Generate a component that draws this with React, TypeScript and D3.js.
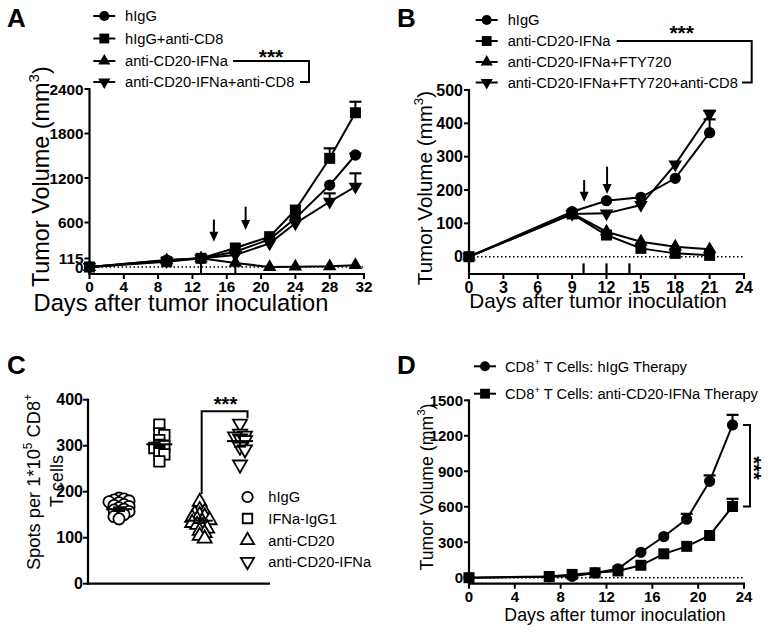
import React from 'react';
import * as d3 from 'd3';

const FONT = '"Liberation Sans", Arial, Helvetica, sans-serif';

// ---------------- Panel A ----------------
const daysA = [0, 9, 13, 17, 21, 24, 28, 31];
const namesA = ['hIgG', 'hIgG+anti-CD8', 'anti-CD20-IFNa', 'anti-CD20-IFNa+anti-CD8'];
const hIgG_A = [0, 94, 117, 206, 373, 656, 1105, 1510];
const hIgGCD8_A = [0, 72, 117, 256, 409, 768, 1465, 2080];
const cd20IFN_A = [0, 90, 117, 55, 0, 5, 10, 25];
const cd20IFNCD8_A = [0, 80, 117, 162, 319, 589, 880, 1083];
const errHIgG_A = [0, 0, 0, 0, 0, 0, 0, 20];
const errHIgGCD8_A = [0, 0, 0, 0, 0, 0, 135, 148];
const errCd20IFN_A = [0, 0, 0, 0, 0, 0, 0, 0];
const errCd20IFNCD8_A = [0, 0, 0, 0, 0, 0, 113, 180];
const xTicksA = [0, 4, 8, 12, 16, 20, 24, 28, 32];
const yTicksA = [0, 115, 600, 1200, 1800, 2400];
const treatDaysA = [13, 17];
const arrowDaysA = [14.5, 18.2];
const arrowTopA = [640, 813];
const arrowTipA = [340, 499];

// ---------------- Panel B ----------------
const daysB = [0, 9, 12, 15, 18, 21];
const namesB = ['hIgG', 'anti-CD20-IFNa', 'anti-CD20-IFNa+FTY720', 'anti-CD20-IFNa+FTY720+anti-CD8'];
const hIgG_B = [0, 135, 168, 178, 235, 372];
const cd20IFN_B = [0, 128, 65, 25, 10, 4];
const cd20IFNFTY_B = [0, 130, 75, 45, 30, 22];
const cd20IFNFTYCD8_B = [0, 128, 130, 155, 277, 428];
const errHIgG_B = [0, 0, 0, 0, 0, 40];
const errCd20IFN_B = [0, 0, 0, 0, 0, 0];
const errCd20IFNFTY_B = [0, 0, 0, 0, 0, 0];
const errCd20IFNFTYCD8_B = [0, 0, 0, 0, 0, 10];
const xTicksB = [0, 3, 6, 9, 12, 15, 18, 21, 24];
const yTicksB = [0, 100, 200, 300, 400, 500];
const treatDaysB = [10, 12, 14];
const arrowDaysB = [10.05, 12.05];
const arrowTopB = [230, 270];
const arrowTipB = [165, 188];

// ---------------- Panel C ----------------
const groupsC = ['hIgG', 'IFNa-IgG1', 'anti-CD20', 'anti-CD20-IFNa'];
const shapesC = ['circle', 'square', 'triangle', 'invtriangle'];
const ptsHIgG_C = [186, 184, 182, 180, 178, 176, 172, 170, 168, 165, 162, 160, 157, 154, 150, 146, 141];
const ptsIFNaIgG1_C = [346, 327, 323, 312, 302, 299, 295, 288, 281, 266];
const ptsCD20_C = [178, 160, 156, 152, 149, 146, 143, 140, 138, 135, 132, 128, 124, 120, 115, 110, 104, 98];
const ptsCD20IFNa_C = [348, 326, 322, 320, 316, 312, 298, 292, 259];
const meansC = [162, 303, 137, 310];
const semsC = [4, 8, 5, 12];
const yTicksC = [0, 100, 200, 300, 400];

// ---------------- Panel D ----------------
const daysD = [0, 7, 9, 11, 13, 15, 17, 19, 21, 23];
const hIgG_D = [0, 8, 12, 40, 75, 215, 348, 495, 815, 1292];
const cd20IFN_D = [0, 10, 28, 42, 57, 105, 202, 265, 357, 602];
const errHIgG_D = [0, 0, 0, 0, 0, 0, 0, 45, 50, 85];
const errCd20IFN_D = [0, 0, 0, 0, 0, 0, 0, 0, 0, 65];
const xTicksD = [0, 4, 8, 12, 16, 20, 24];
const yTicksD = [0, 300, 600, 900, 1200, 1500];

type Shape = 'circle' | 'square' | 'triangle' | 'invtriangle';

const SIZES: Record<string, number> = { circle: 100, square: 121, triangle: 80, invtriangle: 80 };

function symPath(shape: string, size?: number) {
  const t = shape === 'circle' ? d3.symbolCircle : shape === 'square' ? d3.symbolSquare : d3.symbolTriangle;
  return d3.symbol(t, size ?? SIZES[shape])() as string;
}

function Marker({ shape, x, y, filled = true, size }: { shape: string; x: number; y: number; filled?: boolean; size?: number }) {
  const rot = shape === 'invtriangle' ? ' rotate(180)' : '';
  return (
    <path
      d={symPath(shape, size)}
      transform={`translate(${x},${y})${rot}`}
      fill={filled ? '#000' : '#fff'}
      stroke="#000"
      strokeWidth={filled ? 0 : 1.8}
    />
  );
}

type Series = { values: number[]; err: number[]; shape: Shape };

function Axes({
  x, y, axisY, xTicks, yTicks, tickFont, xLabelBase,
}: {
  x: d3.ScaleLinear<number, number>; y: d3.ScaleLinear<number, number>; axisY: number;
  xTicks: number[]; yTicks: number[]; tickFont: number; xLabelBase: number;
}) {
  const x0 = x.range()[0];
  const x1 = x.range()[1];
  const yTop = y(yTicks[yTicks.length - 1]);
  return (
    <g fontFamily={FONT} fontWeight="bold" fontSize={tickFont}>
      <line x1={x0} x2={x0} y1={yTop - 1} y2={axisY + 1} stroke="#000" strokeWidth={2.2} />
      <line x1={x0 - 1} x2={x1 + 1} y1={axisY} y2={axisY} stroke="#000" strokeWidth={2.2} />
      {yTicks.map((t) => (
        <g key={'y' + t}>
          <line x1={x0 - 5} x2={x0} y1={y(t)} y2={y(t)} stroke="#000" strokeWidth={2} />
          <text x={x0 - 6} y={y(t)} dy="0.36em" textAnchor="end">{t}</text>
        </g>
      ))}
      {xTicks.map((t) => (
        <g key={'x' + t}>
          <line x1={x(t)} x2={x(t)} y1={axisY} y2={axisY + 5} stroke="#000" strokeWidth={2} />
          <text x={x(t)} y={xLabelBase} textAnchor="middle">{t}</text>
        </g>
      ))}
    </g>
  );
}

function SeriesMarks({ x, y, days, series }: { x: any; y: any; days: number[]; series: Series[] }) {
  const line = d3.line<number>().x((_, i) => x(days[i])).y((v) => y(v));
  return (
    <g>
      {series.map((s, si) => (
        <g key={'e' + si}>
          {s.values.map((v, i) =>
            s.err[i] > 0 ? (
              <g key={i}>
                <line x1={x(days[i])} x2={x(days[i])} y1={y(v)} y2={y(v + s.err[i])} stroke="#000" strokeWidth={2} />
                <line x1={x(days[i]) - 6} x2={x(days[i]) + 6} y1={y(v + s.err[i])} y2={y(v + s.err[i])} stroke="#000" strokeWidth={2.2} />
              </g>
            ) : null
          )}
        </g>
      ))}
      {series.map((s, si) => (
        <path key={'l' + si} d={line(s.values) as string} fill="none" stroke="#000" strokeWidth={2} />
      ))}
      {series.map((s, si) => (
        <g key={'m' + si}>
          {s.values.map((v, i) => (
            <Marker key={i} shape={s.shape} x={x(days[i])} y={y(v)} />
          ))}
        </g>
      ))}
    </g>
  );
}

// text made of alternating normal / superscript pieces
function SupText({ pieces, size }: { pieces: string[]; size: number }) {
  const shift = size * 0.42;
  return (
    <>
      {pieces.map((p, i) =>
        i % 2 === 1 ? (
          <tspan key={i} fontSize={size * 0.65} dy={-shift}>{p}</tspan>
        ) : i === 0 ? (
          <tspan key={i}>{p}</tspan>
        ) : (
          <tspan key={i} dy={shift}>{p}</tspan>
        )
      )}
    </>
  );
}

function LegendRow({ shape, x, y, pieces, textX }: { shape: Shape; x: number; y: number; pieces: string[]; textX: number }) {
  return (
    <g>
      <line x1={x - 11} x2={x + 11} y1={y} y2={y} stroke="#000" strokeWidth={2} />
      <Marker shape={shape} x={x} y={y} size={SIZES[shape] * 0.8} />
      <text x={textX} y={y + 5.3} fontFamily={FONT} fontSize={14.7}>
        <SupText pieces={pieces} size={14.7} />
      </text>
    </g>
  );
}

function Arrow({ x, yFrom, yTo }: { x: number; yFrom: number; yTo: number }) {
  return (
    <g>
      <line x1={x} x2={x} y1={yFrom} y2={yTo - 8} stroke="#000" strokeWidth={2} />
      <path d={`M${x - 4.5},${yTo - 10} L${x + 4.5},${yTo - 10} L${x},${yTo} Z`} fill="#000" />
    </g>
  );
}

function RotText({ x, y, size, pieces }: { x: number; y: number; size: number; pieces: string[] }) {
  return (
    <text transform={`translate(${x},${y}) rotate(-90)`} textAnchor="middle" fontFamily={FONT} fontSize={size}>
      <SupText pieces={pieces} size={size} />
    </text>
  );
}

function swarm(values: number[], y: (v: number) => number, diam: number, step: number) {
  const placed: { dx: number; py: number }[] = [];
  const order = values.map((_, i) => i).sort((a, b) => values[b] - values[a]);
  const out = new Array(values.length).fill(0);
  for (const i of order) {
    const py = y(values[i]);
    let best = 0;
    for (let k = 0; k < 30; k++) {
      const cand = k === 0 ? 0 : (k % 2 ? 1 : -1) * Math.ceil(k / 2) * step;
      if (placed.every((p) => Math.hypot(p.dx - cand, p.py - py) >= diam)) {
        best = cand;
        break;
      }
    }
    placed.push({ dx: best, py });
    out[i] = best;
  }
  return out;
}

export default function App() {
  // ---------- A ----------
  const xA = d3.scaleLinear().domain([0, 32]).range([89.5, 364]);
  const yA = d3.scaleLinear().domain([0, 2400]).range([267, 89]);
  const axisYA = 274;
  const seriesA: Series[] = [
    { values: hIgG_A, err: errHIgG_A, shape: 'circle' },
    { values: hIgGCD8_A, err: errHIgGCD8_A, shape: 'square' },
    { values: cd20IFN_A, err: errCd20IFN_A, shape: 'triangle' },
    { values: cd20IFNCD8_A, err: errCd20IFNCD8_A, shape: 'invtriangle' },
  ];
  const shapes4: Shape[] = ['circle', 'square', 'triangle', 'invtriangle'];
  const legRowsA = [16, 38.5, 61, 82];
  const legRowsB = [20, 41, 62, 82.5];

  // ---------- B ----------
  const xB = d3.scaleLinear().domain([0, 24]).range([469, 744]);
  const yB = d3.scaleLinear().domain([0, 500]).range([256.7, 90]);
  const axisYB = 274;
  const seriesB: Series[] = [
    { values: hIgG_B, err: errHIgG_B, shape: 'circle' },
    { values: cd20IFN_B, err: errCd20IFN_B, shape: 'square' },
    { values: cd20IFNFTY_B, err: errCd20IFNFTY_B, shape: 'triangle' },
    { values: cd20IFNFTYCD8_B, err: errCd20IFNFTYCD8_B, shape: 'invtriangle' },
  ];

  // ---------- C ----------
  const xC = d3.scalePoint<string>().domain(groupsC).range([119, 240]);
  const yC = d3.scaleLinear().domain([0, 400]).range([583.7, 399.7]);
  const ptsC = [ptsHIgG_C, ptsIFNaIgG1_C, ptsCD20_C, ptsCD20IFNa_C];
  const legRowsC = [497, 518.5, 540.3, 561.7];

  // ---------- D ----------
  const xD = d3.scaleLinear().domain([0, 24]).range([469, 744]);
  const yD = d3.scaleLinear().domain([0, 1500]).range([577.7, 400.3]);
  const axisYD = 583.7;
  const seriesD: Series[] = [
    { values: hIgG_D, err: errHIgG_D, shape: 'circle' },
    { values: cd20IFN_D, err: errCd20IFN_D, shape: 'square' },
  ];

  return (
    <svg width={771} height={634} style={{ position: 'absolute', left: 0, top: 0, background: '#fff' }}>
      <rect x={0} y={0} width={771} height={634} fill="#fff" />

      {/* ================= A ================= */}
      <text x={7} y={26.7} fontFamily={FONT} fontWeight="bold" fontSize={26}>A</text>
      {namesA.map((n, i) => (
        <LegendRow key={n} shape={shapes4[i]} x={104.3} y={legRowsA[i]} pieces={[n]} textX={125} />
      ))}
      <path d={`M233,${legRowsA[2]} H309 V${legRowsA[3]} H300`} fill="none" stroke="#000" strokeWidth={2} />
      <text x={271} y={64} textAnchor="middle" fontFamily={FONT} fontWeight="bold" fontSize={21}>***</text>
      <line x1={xA(0)} x2={xA(32)} y1={yA(0)} y2={yA(0)} stroke="#000" strokeWidth={1.6} strokeDasharray="1.6,2.4" />
      {treatDaysA.map((d) => (
        <line key={d} x1={xA(d)} x2={xA(d)} y1={yA(cd20IFN_A[daysA.indexOf(d)])} y2={axisYA} stroke="#000" strokeWidth={2} />
      ))}
      <SeriesMarks x={xA} y={yA} days={daysA} series={seriesA} />
      {arrowDaysA.map((d, i) => (
        <Arrow key={d} x={xA(d)} yFrom={yA(arrowTopA[i])} yTo={yA(arrowTipA[i])} />
      ))}
      <Axes x={xA} y={yA} axisY={axisYA} xTicks={xTicksA} yTicks={yTicksA} tickFont={15.3} xLabelBase={292} />
      <text x={181} y={310.5} textAnchor="middle" fontFamily={FONT} fontSize={23.7}>Days after tumor inoculation</text>
      <RotText x={49} y={176.7} size={23.4} pieces={['Tumor Volume (mm', '3', ')']} />

      {/* ================= B ================= */}
      <text x={397} y={26.7} fontFamily={FONT} fontWeight="bold" fontSize={26}>B</text>
      {namesB.map((n, i) => (
        <LegendRow key={n} shape={shapes4[i]} x={486.7} y={legRowsB[i]} pieces={[n]} textX={507.7} />
      ))}
      <path d={`M616.7,${legRowsB[1]} H751.7 V${legRowsB[3]} H742`} fill="none" stroke="#000" strokeWidth={2} />
      <text x={681.7} y={40} textAnchor="middle" fontFamily={FONT} fontWeight="bold" fontSize={21}>***</text>
      <line x1={xB(0)} x2={xB(24)} y1={yB(0)} y2={yB(0)} stroke="#000" strokeWidth={1.6} strokeDasharray="1.6,2.4" />
      {treatDaysB.map((d) => (
        <line key={d} x1={xB(d)} x2={xB(d)} y1={yB(-20)} y2={axisYB} stroke="#000" strokeWidth={2.2} />
      ))}
      <SeriesMarks x={xB} y={yB} days={daysB} series={seriesB} />
      {arrowDaysB.map((d, i) => (
        <Arrow key={d} x={xB(d)} yFrom={yB(arrowTopB[i])} yTo={yB(arrowTipB[i])} />
      ))}
      <Axes x={xB} y={yB} axisY={axisYB} xTicks={xTicksB} yTicks={yTicksB} tickFont={16} xLabelBase={292.5} />
      <text x={598} y={308} textAnchor="middle" fontFamily={FONT} fontSize={20.7}>Days after tumor inoculation</text>
      <RotText x={432} y={188} size={20.6} pieces={['Tumor Volume (mm', '3', ')']} />

      {/* ================= C ================= */}
      <text x={7} y={373.7} fontFamily={FONT} fontWeight="bold" fontSize={26}>C</text>
      <g fontFamily={FONT} fontWeight="bold" fontSize={16}>
        <line x1={88} x2={88} y1={yC(400) - 1} y2={yC(0) + 1} stroke="#000" strokeWidth={2.2} />
        <line x1={87} x2={270} y1={yC(0)} y2={yC(0)} stroke="#000" strokeWidth={2.2} />
        {yTicksC.map((t) => (
          <g key={t}>
            <line x1={83} x2={88} y1={yC(t)} y2={yC(t)} stroke="#000" strokeWidth={2} />
            <text x={83} y={yC(t)} dy="0.36em" textAnchor="end">{t}</text>
          </g>
        ))}
      </g>
      {ptsC.map((vals, gi) => {
        const offs = swarm(vals, (v) => yC(v), 4.5, 2.5);
        const cx = xC(groupsC[gi]) as number;
        return (
          <g key={gi}>
            {vals.map((v, i) => (
              <Marker key={i} shape={shapesC[gi]} x={cx + offs[i]} y={yC(v)} filled={false} size={shapesC[gi] === 'circle' ? 100 : shapesC[gi] === 'square' ? 110 : 85} />
            ))}
            <line x1={cx - 13} x2={cx + 13} y1={yC(meansC[gi])} y2={yC(meansC[gi])} stroke="#000" strokeWidth={2} />
            <line x1={cx} x2={cx} y1={yC(meansC[gi] - semsC[gi])} y2={yC(meansC[gi] + semsC[gi])} stroke="#000" strokeWidth={2} />
            <line x1={cx - 6} x2={cx + 6} y1={yC(meansC[gi] - semsC[gi])} y2={yC(meansC[gi] - semsC[gi])} stroke="#000" strokeWidth={2} />
            <line x1={cx - 6} x2={cx + 6} y1={yC(meansC[gi] + semsC[gi])} y2={yC(meansC[gi] + semsC[gi])} stroke="#000" strokeWidth={2} />
          </g>
        );
      })}
      <path
        d={`M${(xC('anti-CD20') as number) + 2},${yC(195)} V${yC(375)} H${(xC('anti-CD20-IFNa') as number) + 7.5} V${yC(360)}`}
        fill="none" stroke="#000" strokeWidth={2}
      />
      <text x={225.5} y={411} textAnchor="middle" fontFamily={FONT} fontWeight="bold" fontSize={20}>***</text>
      {groupsC.map((g, i) => (
        <g key={g}>
          <Marker shape={shapesC[i]} x={247.5} y={legRowsC[i]} filled={false} size={shapesC[i] === 'circle' ? 85 : shapesC[i] === 'square' ? 90 : 75} />
          <text x={268.3} y={legRowsC[i] + 5.3} fontFamily={FONT} fontSize={14.7}>{g}</text>
        </g>
      ))}
      <RotText x={40} y={482} size={18.3} pieces={['Spots per 1*10', '5', ' CD8', '+', '']} />
      <RotText x={62.5} y={481} size={18.3} pieces={['T cells']} />

      {/* ================= D ================= */}
      <text x={397} y={373.7} fontFamily={FONT} fontWeight="bold" fontSize={26}>D</text>
      <LegendRow shape="circle" x={485} y={366.3} pieces={['CD8', '+', ' T Cells: hIgG Therapy']} textX={505} />
      <LegendRow shape="square" x={485} y={393.7} pieces={['CD8', '+', ' T Cells: anti-CD20-IFNa Therapy']} textX={505} />
      <line x1={xD(0)} x2={xD(24)} y1={yD(0)} y2={yD(0)} stroke="#000" strokeWidth={1.6} strokeDasharray="1.6,2.4" />
      <SeriesMarks x={xD} y={yD} days={daysD} series={seriesD} />
      <Axes x={xD} y={yD} axisY={axisYD} xTicks={xTicksD} yTicks={yTicksD} tickFont={15} xLabelBase={602} />
      <path d={`M743,${yD(1292)} H750 V${yD(602)} H743`} fill="none" stroke="#000" strokeWidth={2} />
      <text transform="translate(747,468) rotate(90)" textAnchor="middle" fontFamily={FONT} fontWeight="bold" fontSize={20}>***</text>
      <text x={615} y={620.5} textAnchor="middle" fontFamily={FONT} fontSize={17.8}>Days after tumor inoculation</text>
      <RotText x={432.7} y={487} size={17.7} pieces={['Tumor Volume (mm', '3', ')']} />
    </svg>
  );
}
